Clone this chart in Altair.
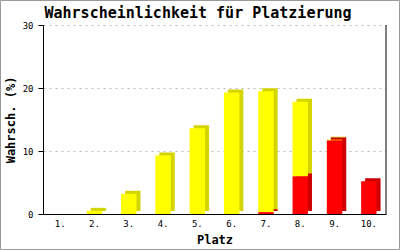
import altair as alt
import pandas as pd

places = ["1.", "2.", "3.", "4.", "5.", "6.", "7.", "8.", "9.", "10."]
yellow = [0, 0.5, 3.2, 9.3, 13.6, 19.3, 19.2, 11.8, 0.1, 0]
red = [0, 0, 0, 0, 0, 0, 0.3, 6.0, 11.7, 5.2]
title_text = "Wahrscheinlichkeit für Platzierung"

rows = []
for i, p in enumerate(places):
    rows.append({"platz": p, "serie": "rot", "ord": 0, "wert": red[i]})
    rows.append({"platz": p, "serie": "gelb", "ord": 1, "wert": yellow[i]})
df = pd.DataFrame(rows)

FONT = "DejaVu Sans Mono"
W, H = 343, 189

xenc = alt.X("platz:N", sort=places,
             scale=alt.Scale(domain=places, paddingInner=0.55, paddingOuter=0.275),
             axis=alt.Axis(title="Platz", labelAngle=0, ticks=False, tickSize=0,
                           labelPadding=5, labelFont=FONT, labelFontSize=9,
                           labelColor="black", domainColor="black",
                           titleFont=FONT, titleFontSize=12, titleFontWeight="bold",
                           titlePadding=6, titleColor="black"))
yenc = alt.Y("wert:Q", stack="zero",
             scale=alt.Scale(domain=[0, 30], nice=False),
             axis=alt.Axis(title="Wahrsch. (%)", values=[0, 10, 20, 30],
                           tickSize=5, tickColor="black", domainColor="black",
                           labelFont=FONT, labelFontSize=9, labelColor="black",
                           labelPadding=5, grid=True, gridColor="#bbbbbb",
                           gridDash=[2, 4],
                           titleFont=FONT, titleFontSize=12, titleFontWeight="bold",
                           titlePadding=5, titleColor="black"))

base = alt.Chart(df).transform_filter("datum.wert > 0")

shadow = base.mark_bar(xOffset=4, x2Offset=4, yOffset=-3, y2Offset=0).encode(
    x=xenc, y=yenc,
    color=alt.Color("serie:N", scale=alt.Scale(domain=["rot", "gelb"], range=["#cc0000", "#d4d400"]), legend=None),
    order=alt.Order("ord:Q"),
)
front = base.mark_bar().encode(
    x=xenc, y=yenc,
    color=alt.Color("serie:N", scale=alt.Scale(domain=["rot", "gelb"], range=["#ff0000", "#ffff00"]), legend=None),
    order=alt.Order("ord:Q"),
)

one = pd.DataFrame({"t": [title_text]})
right_line = alt.Chart(one).mark_rule(color="black", strokeWidth=1).encode(
    x=alt.value(W), y=alt.value(0), y2=alt.value(H)
)
border = alt.Chart(one).mark_rect(fill=None, stroke="#999999", strokeWidth=1, clip=False).encode(
    x=alt.value(-42.5), x2=alt.value(356.5), y=alt.value(-24.5), y2=alt.value(224.5)
)
title = alt.Chart(one).mark_text(font=FONT, fontSize=15, fontWeight="bold", color="black",
                                 align="center", baseline="middle").encode(
    text="t:N", x=alt.value(155), y=alt.value(-12)
)

chart = alt.layer(shadow, front, right_line, border, title).resolve_scale(
    color="independent"
).properties(
    width=W, height=H,
    autosize="none",
    padding={"left": 43, "top": 25, "right": 14, "bottom": 36},
    background="white",
).configure_view(stroke=None)

chart.save("out.html", embed_options={"renderer": "svg", "actions": False})
